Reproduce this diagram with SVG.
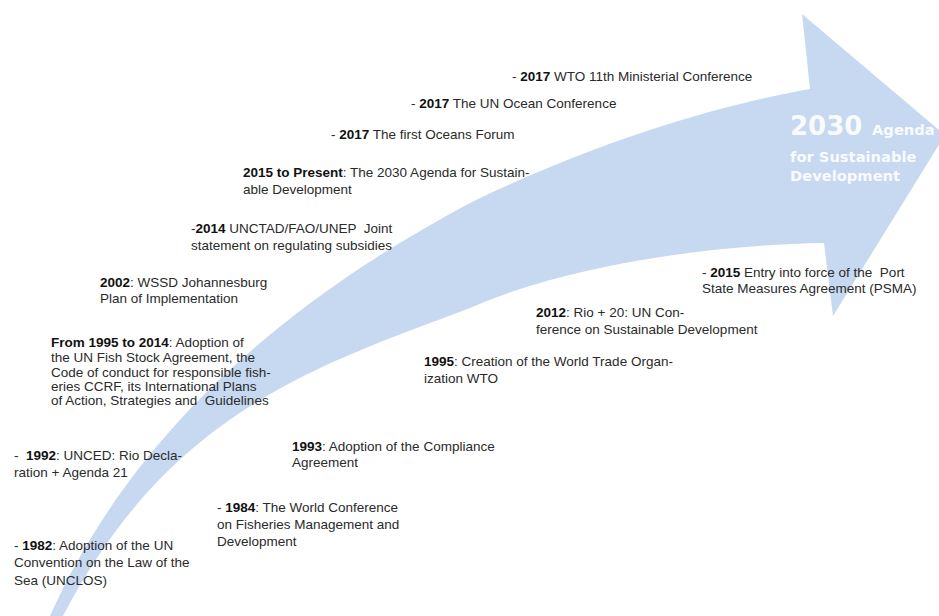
<svg xmlns="http://www.w3.org/2000/svg" width="939" height="616" viewBox="0 0 939 616">
<style>
.t{font-family:"Liberation Sans",Arial,sans-serif;font-size:13.5px;fill:#2a2a2a;white-space:pre}
.b{font-weight:bold;fill:#111}
.h{font-family:"DejaVu Sans",Verdana,sans-serif;font-weight:bold;fill:#ffffff;fill-opacity:0.92}
</style>
<rect width="939" height="616" fill="#ffffff"/>
<g id="arrow">
<path d="M 48 620 L 50 616 C 120 460 250 320 470 203 C 600 140 720 105 810 89 L 802 14 L 945 135 L 833 316 L 824 243 C 700 245 560 268 470 308 C 320 365 170 410 63 616 L 65 620 Z" fill="#c6d9f1"/>
<text class="h" x="790" y="135" font-size="26">2030</text>
<text class="h" x="872" y="135" font-size="14.7">Agenda</text>
<text class="h" x="790" y="162" font-size="14.7">for Sustainable</text>
<text class="h" x="790" y="181" font-size="14.7">Development</text>
</g>
<g id="connectors"></g>
<g id="n2017wto"><text class="t" x="512" y="81">- <tspan class="b">2017</tspan> WTO 11th Ministerial Conference</text></g>
<g id="n2017ocean"><text class="t" x="411" y="108">- <tspan class="b">2017</tspan> The UN Ocean Conference</text></g>
<g id="n2017forum"><text class="t" x="331" y="139">- <tspan class="b">2017</tspan> The first Oceans Forum</text></g>
<g id="n2015agenda"><text class="t" x="243" y="177"><tspan class="b">2015 to Present</tspan>: The 2030 Agenda for Sustain-</text><text class="t" x="243" y="194">able Development</text></g>
<g id="n2014"><text class="t" x="191" y="233">-<tspan class="b">2014</tspan> UNCTAD/FAO/UNEP  Joint</text><text class="t" x="191" y="250">statement on regulating subsidies</text></g>
<g id="n2002"><text class="t" x="100" y="287"><tspan class="b">2002</tspan>: WSSD Johannesburg</text><text class="t" x="100" y="303">Plan of Implementation</text></g>
<g id="n1995to2014"><text class="t" x="51" y="347"><tspan class="b">From 1995 to 2014</tspan>: Adoption of</text><text class="t" x="51" y="362">the UN Fish Stock Agreement, the</text><text class="t" x="51" y="377">Code of conduct for responsible fish-</text><text class="t" x="51" y="391">eries CCRF, its International Plans</text><text class="t" x="51" y="405">of Action, Strategies and  Guidelines</text></g>
<g id="n1992"><text class="t" x="14" y="460">-  <tspan class="b">1992</tspan>: UNCED: Rio Decla-</text><text class="t" x="14" y="477">ration + Agenda 21</text></g>
<g id="n1982"><text class="t" x="14" y="550">- <tspan class="b">1982</tspan>: Adoption of the UN</text><text class="t" x="14" y="567">Convention on the Law of the</text><text class="t" x="14" y="585">Sea (UNCLOS)</text></g>
<g id="n1984"><text class="t" x="217" y="512">- <tspan class="b">1984</tspan>: The World Conference</text><text class="t" x="217" y="529">on Fisheries Management and</text><text class="t" x="217" y="546">Development</text></g>
<g id="n1993"><text class="t" x="292" y="451"><tspan class="b">1993</tspan>: Adoption of the Compliance</text><text class="t" x="292" y="467">Agreement</text></g>
<g id="n1995wto"><text class="t" x="424" y="366"><tspan class="b">1995</tspan>: Creation of the World Trade Organ-</text><text class="t" x="424" y="383">ization WTO</text></g>
<g id="n2012"><text class="t" x="536" y="317"><tspan class="b">2012</tspan>: Rio + 20: UN Con-</text><text class="t" x="536" y="334">ference on Sustainable Development</text></g>
<g id="n2015psma"><text class="t" x="702" y="277">- <tspan class="b">2015</tspan> Entry into force of the  Port</text><text class="t" x="702" y="293">State Measures Agreement (PSMA)</text></g>
</svg>
